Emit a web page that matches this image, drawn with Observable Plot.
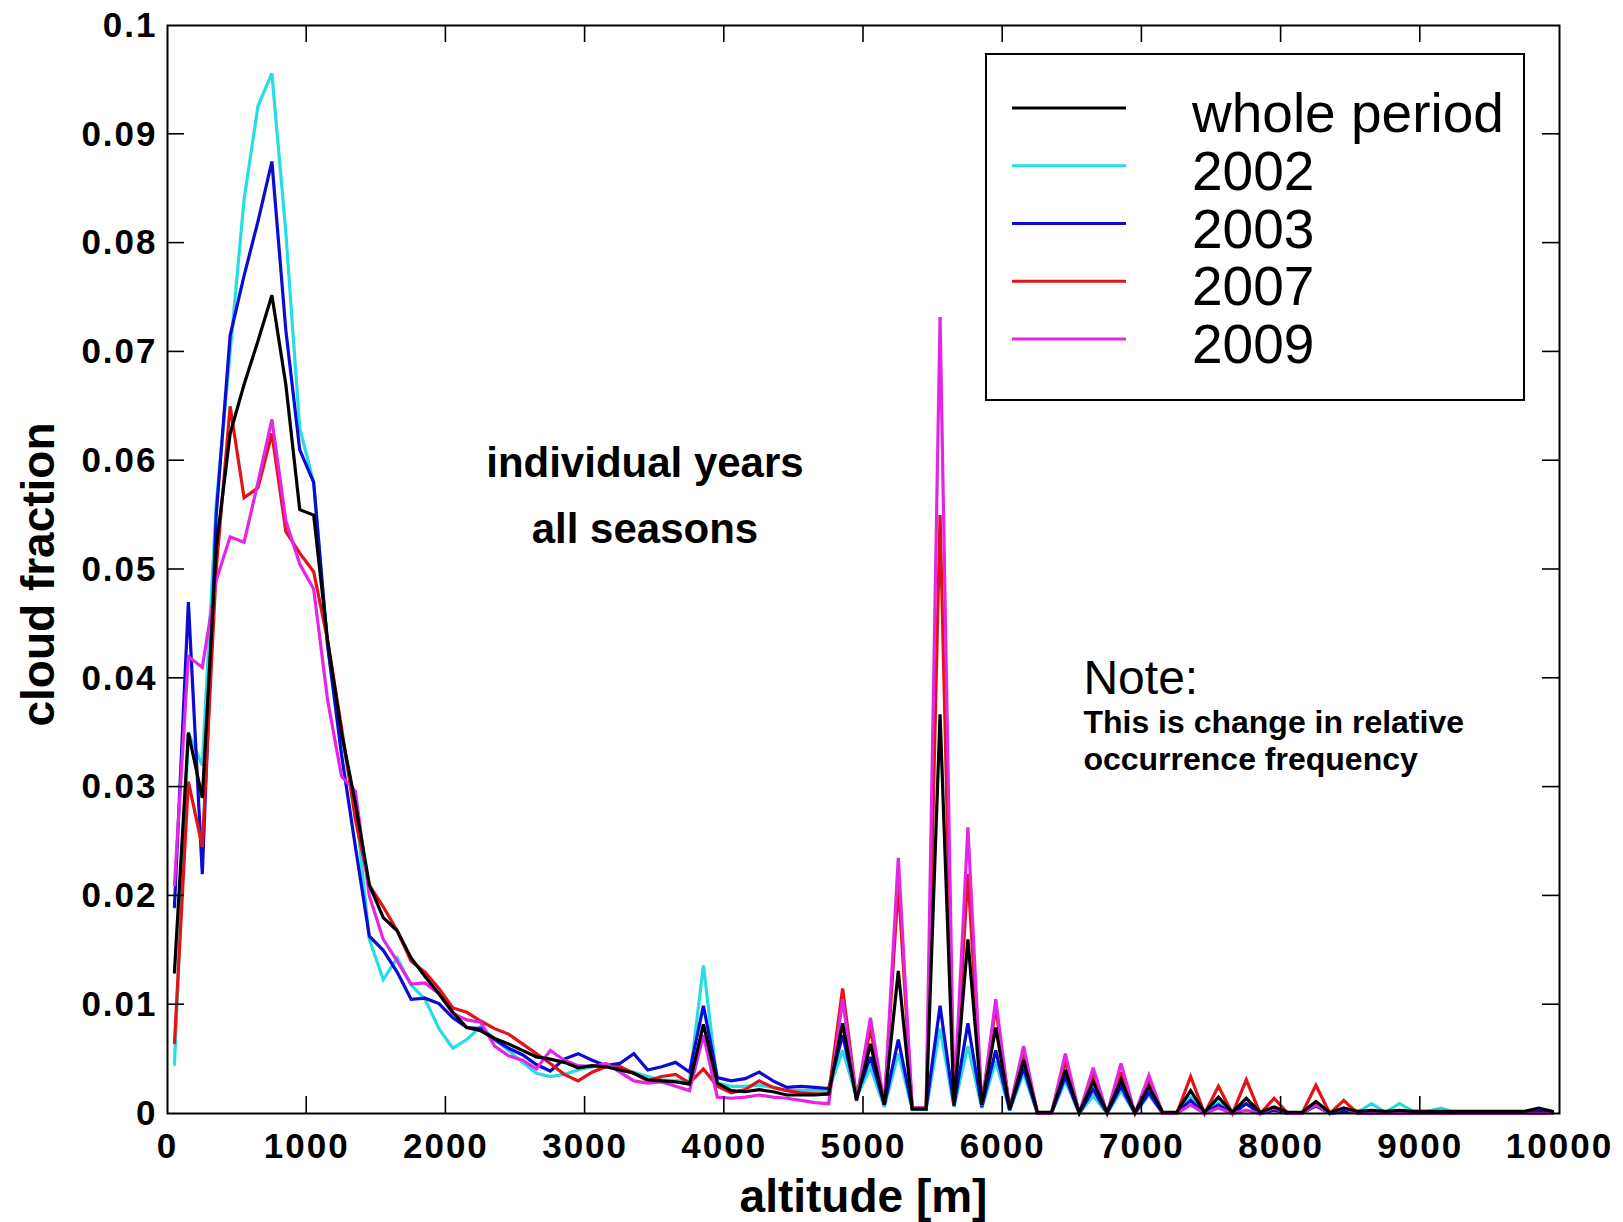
<!DOCTYPE html>
<html>
<head>
<meta charset="utf-8">
<script src="https://cdn.jsdelivr.net/npm/d3@7"></script>
<script src="https://cdn.jsdelivr.net/npm/@observablehq/plot@0.6"></script>
<style>
  html, body { margin: 0; padding: 0; background: #fff; }
  #chart { position: relative; width: 1623px; height: 1222px; overflow: hidden; }
  #chart svg { font-family: "Liberation Sans", Arial, Helvetica, sans-serif; }
  g[aria-label="x-axis tick label"], g[aria-label="y-axis tick label"] { font-weight: bold; letter-spacing: 2px; }
</style>
</head>
<body>
<div id="chart"></div>
<script>
// ---- data ----
const altitude = [50,150,250,350,450,550,650,750,850,950,
  1050,1150,1250,1350,1450,1550,1650,1750,1850,1950,
  2050,2150,2250,2350,2450,2550,2650,2750,2850,2950,
  3050,3150,3250,3350,3450,3550,3650,3750,3850,3950,
  4050,4150,4250,4350,4450,4550,4650,4750,4850,4950,
  5050,5150,5250,5350,5450,5550,5650,5750,5850,5950,
  6050,6150,6250,6350,6450,6550,6650,6750,6850,6950,
  7050,7150,7250,7350,7450,7550,7650,7750,7850,7950,
  8050,8150,8250,8350,8450,8550,8650,8750,8850,8950,
  9050,9150,9250,9350,9450,9550,9650,9750,9850,9950];

const wholePeriod = [0.013,0.035,0.029,0.052,0.0625,0.067,0.071,0.0752,0.067,0.0555,
  0.055,0.0435,0.035,0.0285,0.021,0.018,0.0168,0.0143,0.0126,0.011,
  0.0093,0.0079,0.0076,0.0069,0.0064,0.0058,0.0052,0.005,0.0047,0.0042,
  0.0044,0.0043,0.004,0.0037,0.0031,0.003,0.0029,0.0027,0.0082,0.0028,
  0.0021,0.002,0.0022,0.002,0.0017,0.0017,0.0017,0.0018,0.0083,0.0012,
  0.0064,0.0008,0.0131,0.0004,0.0004,0.0367,0.0008,0.016,0.0008,0.0079,
  0.0004,0.0049,0.0001,0.0001,0.004,0.0001,0.0029,0.0001,0.0031,0.0001,
  0.0025,0.0001,0.0001,0.0021,0.0001,0.0015,0.0001,0.0014,0.0001,0.0006,
  0.0001,0.0001,0.0011,0.0001,0.0005,0.0002,0.0003,0.0002,0.0003,0.0002,
  0.0002,0.0002,0.0002,0.0002,0.0002,0.0002,0.0002,0.0002,0.0005,0.0002];

const year2002 = [0.0045,0.035,0.032,0.056,0.070,0.084,0.0926,0.0956,0.081,0.063,
  0.058,0.043,0.0345,0.0285,0.016,0.0123,0.0143,0.0118,0.0105,0.0078,
  0.006,0.0068,0.008,0.0068,0.0058,0.0047,0.0037,0.0034,0.0036,0.004,
  0.0043,0.0043,0.0042,0.0038,0.0034,0.0031,0.003,0.003,0.0136,0.0028,
  0.0025,0.0025,0.0026,0.0024,0.0021,0.0021,0.0021,0.0021,0.0058,0.0015,
  0.0042,0.0006,0.0055,0.0004,0.0004,0.0078,0.0006,0.0062,0.0005,0.0048,
  0.0003,0.0037,0,0,0.003,0,0.0016,0,0.0021,0,
  0.0017,0,0,0.0015,0,0.001,0,0.0009,0,0.0004,
  0,0,0.0008,0,0.0003,0.0001,0.0009,0.0001,0.0009,0.0002,
  0.0002,0.0005,0.0001,0.0001,0.0001,0.0001,0.0001,0.0001,0.0003,0.0001];

const year2003 = [0.019,0.047,0.022,0.055,0.0715,0.077,0.082,0.0875,0.072,0.061,
  0.058,0.043,0.033,0.0245,0.0163,0.015,0.013,0.0105,0.0106,0.0101,
  0.0088,0.0079,0.0078,0.0068,0.006,0.0054,0.0045,0.0039,0.005,0.0055,
  0.0049,0.0044,0.0046,0.0055,0.004,0.0043,0.0047,0.0038,0.0099,0.0033,
  0.003,0.0032,0.0038,0.003,0.0024,0.0025,0.0024,0.0023,0.0072,0.0016,
  0.0052,0.0008,0.0068,0.0005,0.0005,0.0099,0.0007,0.0083,0.0006,0.0058,
  0.0003,0.0042,0,0,0.0034,0,0.0022,0,0.0025,0,
  0.0019,0,0,0.0012,0,0.0008,0,0.0009,0,0.0003,
  0,0,0.0007,0,0.0002,0.0001,0.0002,0.0001,0.0002,0.0001,
  0.0001,0.0001,0.0001,0.0001,0.0001,0.0001,0.0001,0.0001,0.0002,0.0001];

const year2007 = [0.0065,0.0305,0.0245,0.05,0.065,0.0566,0.0575,0.0625,0.0535,0.0515,
  0.0498,0.0435,0.0355,0.027,0.021,0.019,0.0168,0.014,0.013,0.0115,
  0.0097,0.0093,0.0085,0.0078,0.0073,0.0064,0.0055,0.0046,0.0036,0.003,
  0.0038,0.0043,0.0043,0.0037,0.003,0.0034,0.0036,0.0028,0.0041,0.0025,
  0.0019,0.0022,0.003,0.0024,0.0021,0.0019,0.0018,0.0018,0.0115,0.0014,
  0.0078,0.0008,0.021,0.0005,0.0005,0.055,0.0008,0.022,0.0007,0.0098,
  0.0004,0.0055,0,0,0.0048,0,0.0034,0,0.0038,0,
  0.0029,0,0,0.0034,0,0.0025,0,0.0031,0,0.0014,
  0,0,0.0026,0,0.0012,0,0.0001,0,0.0001,0,
  0,0,0,0,0,0,0,0,0,0];

const year2009 = [0.021,0.042,0.041,0.049,0.053,0.0525,0.058,0.0638,0.0545,0.0505,
  0.0482,0.038,0.031,0.0296,0.02,0.016,0.014,0.0119,0.012,0.011,
  0.0092,0.0086,0.0084,0.0062,0.0053,0.0049,0.0041,0.0058,0.0049,0.0044,
  0.0043,0.0046,0.0038,0.003,0.0028,0.0029,0.0025,0.0021,0.0072,0.0015,
  0.0014,0.0015,0.0017,0.0015,0.0014,0.0012,0.001,0.0009,0.0105,0.0012,
  0.0088,0.0008,0.0235,0.0005,0.0005,0.0732,0.0008,0.0263,0.0007,0.0105,
  0.0004,0.0062,0,0,0.0055,0,0.0042,0,0.0046,0,
  0.0035,0,0,0.0008,0,0.0005,0,0.0003,0,0.0005,
  0,0,0.0008,0,0.0005,0,0,0,0,0,
  0,0,0,0,0,0,0,0,0,0];

const seriesNames  = ["whole period", "2002", "2003", "2007", "2009"];
const seriesValues = [wholePeriod, year2002, year2003, year2007, year2009];
const seriesColors = ["#000000", "#26dde6", "#0b0bd4", "#e01418", "#e426e4"];
const drawOrder = [1, 2, 3, 4, 0];

const xTicks = [0,1000,2000,3000,4000,5000,6000,7000,8000,9000,10000];
const yTicks = [0,0.01,0.02,0.03,0.04,0.05,0.06,0.07,0.08,0.09,0.1];

// ---- build table ----
const rows = [];
seriesNames.forEach((name, s) => {
  altitude.forEach((a, i) => rows.push({series: name, altitude: a, value: seriesValues[s][i]}));
});

const lineMarks = drawOrder.map(s =>
  Plot.line(rows.filter(r => r.series === seriesNames[s]), {
    x: "altitude", y: "value", stroke: seriesColors[s], strokeWidth: 3.2,
    strokeLinejoin: "miter", strokeMiterlimit: 3
  })
);

const chart = Plot.plot({
  width: 1623,
  height: 1222,
  marginTop: 25,
  marginBottom: 109,
  marginLeft: 167,
  marginRight: 64,
  style: {fontFamily: "'Liberation Sans', Arial, Helvetica, sans-serif", background: "#fff", color: "#000"},
  x: {domain: [0, 10000]},
  y: {domain: [0, 0.1]},
  marks: [
    ...lineMarks,
    Plot.frame({stroke: "#000", strokeWidth: 2}),
    Plot.axisX(xTicks, {tickFormat: "d", tickSize: 0, tickPadding: 20, fontSize: 35, fontWeight: "bold", label: null}),
    Plot.axisY(yTicks, {tickFormat: ".2~f", tickSize: 0, tickPadding: 10, fontSize: 35, fontWeight: "bold", label: null}),
    Plot.text(["altitude [m]"], {text: d => d, frameAnchor: "bottom", lineAnchor: "middle", textAnchor: "middle", dy: 84, fontSize: 46, fontWeight: "bold"}),
    Plot.text(["cloud fraction"], {text: d => d, frameAnchor: "left", lineAnchor: "middle", textAnchor: "middle", rotate: -90, dx: -128, dy: 5, fontSize: 46, fontWeight: "bold"}),
    Plot.text(["individual years"], {text: d => d, x: 3430, y: 0.0597, fontSize: 42, fontWeight: "bold"}),
    Plot.text(["all seasons"], {text: d => d, x: 3430, y: 0.0537, fontSize: 42, fontWeight: "bold"}),
    Plot.text(["Note:"], {text: d => d, x: 6580, y: 0.040, textAnchor: "start", fontSize: 48}),
    Plot.text(["This is change in relative"], {text: d => d, x: 6580, y: 0.0359, textAnchor: "start", fontSize: 32, fontWeight: "bold"}),
    Plot.text(["occurrence frequency"], {text: d => d, x: 6580, y: 0.0325, textAnchor: "start", fontSize: 32, fontWeight: "bold"})
  ]
});

document.getElementById("chart").appendChild(chart);

// ---- inward ticks on all four sides, placed with the plot's scales ----
const sx = chart.scale("x"), sy = chart.scale("y");
const [xl, xr] = sx.range;
const [yb, yt] = sy.range;
const tickLen = 17;
const svg = d3.select(chart);
const tg = svg.append("g").attr("stroke", "#000").attr("stroke-width", 1.6);
xTicks.slice(1, -1).forEach(v => {
  const px = sx.apply(v);
  tg.append("line").attr("x1", px).attr("x2", px).attr("y1", yb).attr("y2", yb - tickLen);
  tg.append("line").attr("x1", px).attr("x2", px).attr("y1", yt).attr("y2", yt + tickLen);
});
yTicks.slice(1, -1).forEach(v => {
  const py = sy.apply(v);
  tg.append("line").attr("y1", py).attr("y2", py).attr("x1", xl).attr("x2", xl + tickLen);
  tg.append("line").attr("y1", py).attr("y2", py).attr("x1", xr).attr("x2", xr - tickLen);
});

// ---- legend box inside the frame (top right) ----
const lgRight = xr - 35, lgTop = yt + 29, lgW = 538, lgH = 346;
const lg = svg.append("g").attr("text-anchor", "start");
lg.append("rect").attr("x", lgRight - lgW).attr("y", lgTop).attr("width", lgW).attr("height", lgH)
  .attr("fill", "#fff").attr("stroke", "#000").attr("stroke-width", 2);
seriesNames.forEach((name, i) => {
  const yy = lgTop + 54 + i * 57.75;
  lg.append("line").attr("x1", lgRight - lgW + 26).attr("x2", lgRight - lgW + 140)
    .attr("y1", yy).attr("y2", yy).attr("stroke", seriesColors[i]).attr("stroke-width", 3);
  lg.append("text").attr("x", lgRight - lgW + 206).attr("y", yy + 24)
    .attr("text-anchor", "start").attr("font-size", 55).attr("fill", "#000").text(name);
});
</script>
</body>
</html>
